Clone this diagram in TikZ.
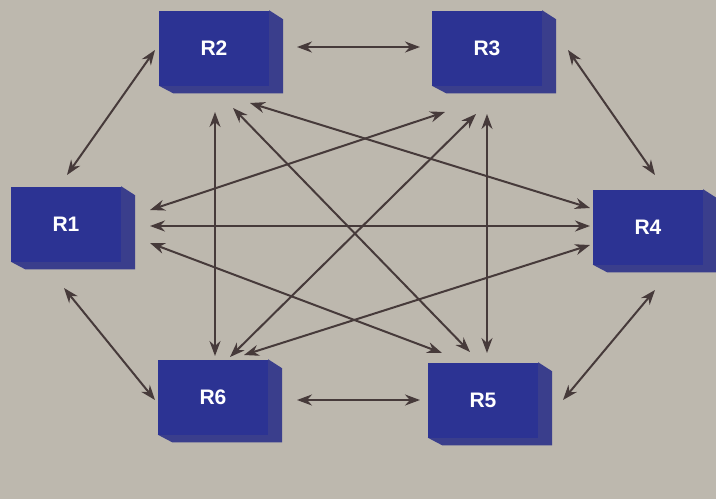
\documentclass[tikz,border=0pt]{standalone}
\usepackage{fontspec}
\setmainfont{Liberation Sans}
\usetikzlibrary{arrows.meta}
\definecolor{bg}{HTML}{BDB8AE}
\definecolor{front}{HTML}{2C3393}
\definecolor{sidec}{HTML}{3A3E8C}
\definecolor{arr}{HTML}{463A3A}
\tikzset{
  box/.style={fill=front, minimum width=110pt, minimum height=75pt, inner sep=0pt,
    text=white, font=\fontsize{21}{23}\selectfont\bfseries},
  link/.style={draw=arr, line width=2pt, {Stealth[length=15pt,width=11pt]}-{Stealth[length=15pt,width=11pt]}},
}
\newcommand{\rbox}[3]{%
  \node[box] (#1) at (#2) {#3};
  \fill[sidec] (#1.north east) -- ++(14,9) -- ++(0,74) -- ++(-110,0) -- (#1.south west) -- (#1.south east) -- cycle;
  \node[box] at (#1) {#3};
}
\begin{document}
\begin{tikzpicture}[x=1pt,y=-1pt]
\fill[bg] (0,0) rectangle (716,499);
\useasboundingbox (0,0) rectangle (716,499);
\rbox{R1}{66,224}{R1}
\rbox{R2}{214,48}{R2}
\rbox{R3}{487,48}{R3}
\rbox{R4}{648,227}{R4}
\rbox{R5}{483,400}{R5}
\rbox{R6}{213,397}{R6}
% endpoints
\coordinate (a12) at (67,175);  \coordinate (b12) at (155,50);
\coordinate (a23) at (297,47);  \coordinate (b23) at (420,47);
\coordinate (a34) at (568,50);  \coordinate (b34) at (655,175);
\coordinate (a45) at (655,290); \coordinate (b45) at (563,400);
\coordinate (a56) at (420,400); \coordinate (b56) at (297,400);
\coordinate (a61) at (155,400); \coordinate (b61) at (64,288);
\coordinate (a14) at (150,226); \coordinate (b14) at (590,226);
\coordinate (a13) at (150,210); \coordinate (b13) at (445,112);
\coordinate (a15) at (150,243); \coordinate (b15) at (442,353);
\coordinate (a24) at (250,103); \coordinate (b24) at (590,208);
\coordinate (a25) at (233,108); \coordinate (b25) at (470,352);
\coordinate (a26) at (215,112); \coordinate (b26) at (215,356);
\coordinate (a36) at (476,114); \coordinate (b36) at (230,357);
\coordinate (a35) at (487,114); \coordinate (b35) at (487,353);
\coordinate (a46) at (590,245); \coordinate (b46) at (244,355);
\foreach \p in {12,23,34,45,56,61,14,13,15,24,25,26,36,35,46}
  \draw[link] (a\p) -- (b\p);
\end{tikzpicture}
\end{document}
